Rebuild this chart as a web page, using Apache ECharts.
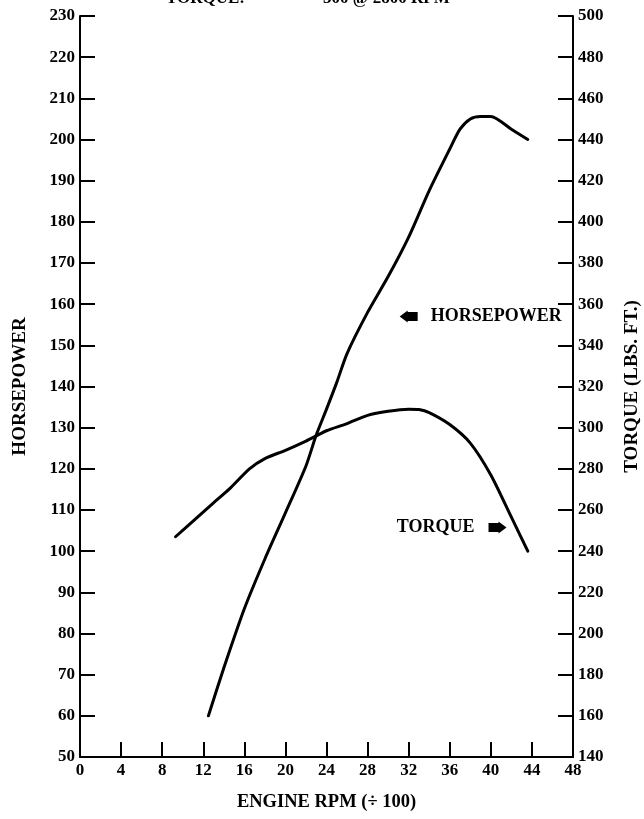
<!DOCTYPE html>
<html>
<head>
<meta charset="utf-8">
<script src="https://cdn.jsdelivr.net/npm/echarts@6/dist/echarts.min.js"></script>
<style>
html,body{margin:0;padding:0;background:#fff;}
#chart{width:644px;height:819px;}
</style>
</head>
<body>
<div id="chart"></div>
<script>
// Engine RPM (÷100) and horsepower readings
const hpRpm = [12.5, 14, 16, 18, 20, 22, 23, 24, 25, 26, 28, 30, 32, 34, 36, 37, 38, 39, 40, 42, 43.6];
const hpValues = [60, 71.6, 86, 98.1, 109.3, 120.7, 128.2, 134.5, 141, 148, 158, 166.7, 176.3, 187.6, 197.7, 202.5, 205, 205.6, 205.6, 202.5, 200];

// Engine RPM (÷100) and torque readings (lbs. ft.)
const tqRpm = [9.3, 11.2, 13, 14.5, 16.5, 18, 20, 22, 23, 24, 26, 28, 30, 32, 33, 34, 36, 38, 40, 42, 43.6];
const tqValues = [247, 255.5, 263.5, 270, 280, 285, 289, 293.5, 296, 298.5, 302, 306, 308, 309, 308.8, 307.3, 301.5, 292.5, 277, 256.5, 240];

// Axis ranges
const rpmAxis = {min: 0, max: 48, step: 4};
const hpAxis = {min: 50, max: 230, step: 10};
const tqAxis = {min: 140, max: 500, step: 20};

// Annotations
const hpNote = {rpm: 32.0, value: 157, text: 'HORSEPOWER'};
const tqNote = {rpm: 40.65, value: 251.5, text: 'TORQUE'};

const titleLeft = 'TORQUE:';
const titleRight = '300 @ 2800 RPM';

const FONT = 'Liberation Serif';
const BLACK = '#000';

const hpData = hpRpm.map((r, i) => [r, hpValues[i]]);
const tqData = tqRpm.map((r, i) => [r, tqValues[i]]);

const arrowRight = 'path://M0,1.5 L10,1.5 L10,0 L18,6 L10,12 L10,10.5 L0,10.5 Z';
const arrowLeft = 'path://M18,1.5 L8,1.5 L8,0 L0,6 L8,12 L8,10.5 L18,10.5 Z';

const axisText = {color: BLACK, fontFamily: FONT, fontWeight: 'bold', fontSize: 17};

function yAxisCfg(r, pos, name) {
  return {
    type: 'value', position: pos, min: r.min, max: r.max, interval: r.step,
    name: name, nameLocation: 'middle', nameGap: 50, nameRotate: 90,
    nameTextStyle: {color: BLACK, fontFamily: FONT, fontWeight: 'bold', fontSize: 19},
    axisLine: {show: true, onZero: false, lineStyle: {color: BLACK, width: 2}},
    axisTick: {show: true, inside: true, length: 15, lineStyle: {color: BLACK, width: 2}},
    axisLabel: Object.assign({margin: 5}, axisText),
    splitLine: {show: false}
  };
}

const chart = echarts.init(document.getElementById('chart'), null, {renderer: 'canvas'});
chart.setOption({
  backgroundColor: '#fff',
  animation: false,
  grid: {left: 80, right: 71, top: 16, bottom: 62, containLabel: false, outerBoundsMode: 'none'},
  graphic: [
    {type: 'text', x: 166, y: -1, style: {text: titleLeft, font: 'bold 17px "Liberation Serif"', fill: BLACK, verticalAlign: 'middle'}},
    {type: 'text', x: 323, y: -1, style: {text: titleRight, font: 'bold 17px "Liberation Serif"', fill: BLACK, verticalAlign: 'middle'}}
  ],
  xAxis: {
    type: 'value', min: rpmAxis.min, max: rpmAxis.max, interval: rpmAxis.step,
    name: 'ENGINE RPM (÷ 100)', nameLocation: 'middle', nameGap: 36,
    nameTextStyle: {color: BLACK, fontFamily: FONT, fontWeight: 'bold', fontSize: 18.5},
    axisLine: {show: true, onZero: false, lineStyle: {color: BLACK, width: 2}},
    axisTick: {show: true, inside: true, length: 15, lineStyle: {color: BLACK, width: 2}},
    axisLabel: Object.assign({margin: 5}, axisText),
    splitLine: {show: false}
  },
  yAxis: [
    yAxisCfg(hpAxis, 'left', 'HORSEPOWER'),
    yAxisCfg(tqAxis, 'right', 'TORQUE (LBS. FT.)')
  ],
  series: [
    {
      type: 'line', name: 'Horsepower', yAxisIndex: 0, data: hpData,
      smooth: 0.25, showSymbol: false, symbol: 'none',
      lineStyle: {color: BLACK, width: 3, cap: 'round'},
      markPoint: {
        symbol: arrowLeft, symbolSize: [18, 12], symbolKeepAspect: false,
        itemStyle: {color: BLACK},
        label: {show: true, position: 'right', distance: 13, formatter: hpNote.text,
          color: BLACK, fontFamily: FONT, fontWeight: 'bold', fontSize: 18},
        data: [{coord: [hpNote.rpm, hpNote.value]}]
      }
    },
    {
      type: 'line', name: 'Torque', yAxisIndex: 1, data: tqData,
      smooth: 0.25, showSymbol: false, symbol: 'none',
      lineStyle: {color: BLACK, width: 3, cap: 'round'},
      markPoint: {
        symbol: arrowRight, symbolSize: [18, 12], symbolKeepAspect: false,
        itemStyle: {color: BLACK},
        label: {show: true, position: 'left', distance: 14, formatter: tqNote.text,
          color: BLACK, fontFamily: FONT, fontWeight: 'bold', fontSize: 18},
        data: [{coord: [tqNote.rpm, tqNote.value]}]
      }
    }
  ]
});
</script>
</body>
</html>
